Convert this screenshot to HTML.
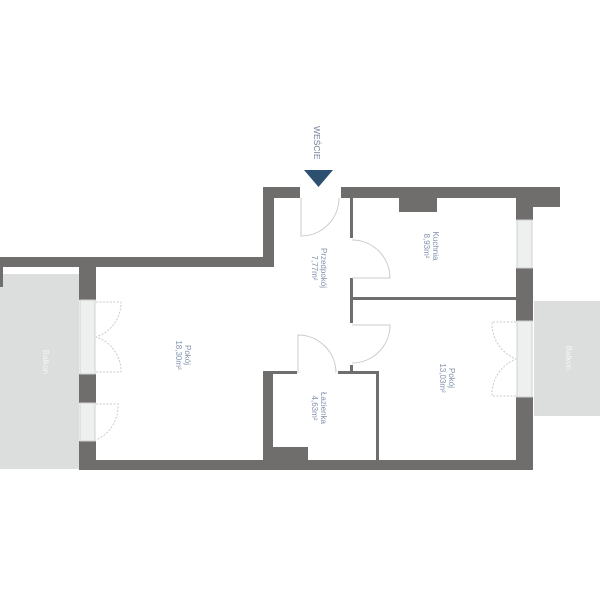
<!DOCTYPE html>
<html><head><style>html,body{margin:0;padding:0;background:#fff}svg{display:block}text{font-family:"Liberation Sans",sans-serif;font-size:8px;fill:#8193ad}</style></head>
<body>
<svg width="600" height="600" viewBox="0 0 600 600" xmlns="http://www.w3.org/2000/svg">
<!-- balconies -->
<rect x="0" y="274" width="79" height="195" fill="#dcdedd"/>
<rect x="534" y="301" width="66" height="115" fill="#dcdedd"/>
<g fill="#6f6e6c">
<!-- top-left entry walls -->
<rect x="263" y="187" width="37" height="11"/>
<rect x="263" y="187" width="11" height="80"/>
<rect x="0" y="257" width="274" height="10"/>
<rect x="0" y="267" width="3" height="20"/>
<!-- top right -->
<rect x="341" y="187" width="219" height="11"/>
<rect x="516" y="187" width="44" height="20"/>
<rect x="516" y="198" width="17" height="22"/>
<rect x="516" y="268" width="17" height="53"/>
<rect x="516" y="397" width="17" height="73"/>
<rect x="399" y="198" width="38" height="14"/>
<!-- left wall -->
<rect x="79" y="267" width="17" height="33"/>
<rect x="79" y="374" width="17" height="29"/>
<rect x="79" y="441" width="17" height="29"/>
<!-- bottom -->
<rect x="79" y="460" width="454" height="10"/>
<!-- interior -->
<rect x="350" y="198" width="3" height="40"/>
<rect x="350" y="278" width="3" height="45"/>
<rect x="350" y="365" width="3" height="9"/>
<rect x="350" y="297" width="166" height="3"/>
<rect x="263" y="371" width="10" height="89"/>
<rect x="273" y="371" width="24" height="3"/>
<rect x="338" y="371" width="41" height="3"/>
<rect x="376" y="371" width="3" height="89"/>
<rect x="263" y="447" width="45" height="13"/>
</g>
<!-- windows -->
<g fill="#eef0ef" stroke="#cfd1d0" stroke-width="1">
<rect x="517" y="220" width="15" height="48"/>
<rect x="80" y="300" width="15" height="74"/>
<rect x="80" y="403" width="15" height="38"/>
<rect x="517" y="321" width="15" height="76"/>
</g>
<!-- doors -->
<g fill="none" stroke="#c9cbca" stroke-width="1">
<path d="M301 198 V236 A38 38 0 0 0 339 198"/>
<path d="M352 278 H390 A38 38 0 0 0 352 240"/>
<path d="M352 325 H390 A38 38 0 0 1 352 363"/>
<path d="M298 373 V335 A38 38 0 0 1 336 373"/>
<g stroke-dasharray="2 1.5">
<path d="M96 302 H121 A36 36 0 0 1 96 337"/>
<path d="M96 372 H121 A36 36 0 0 0 96 337"/>
<path d="M96 404 H118 A37 37 0 0 1 96 440"/>
<path d="M516 322 H492 A38 38 0 0 0 516 359"/>
<path d="M516 396 H492 A38 38 0 0 1 516 359"/>
</g>
</g>
<!-- entry arrow -->
<polygon points="304,170 333,170 318.5,187" fill="#2e5070"/>
<text transform="translate(314,126) rotate(90)" style="font-size:8.5px;fill:#6f7f95">WEŚCIE</text>
<!-- labels -->
<g text-anchor="middle">
<text transform="translate(321,268) rotate(90)"><tspan x="0" y="0">Przedpokój</tspan><tspan x="0" y="9">7,77m²</tspan></text>
<text transform="translate(433,246) rotate(90)"><tspan x="0" y="0">Kuchnia</tspan><tspan x="0" y="9">8,93m²</tspan></text>
<text transform="translate(185,355) rotate(90)"><tspan x="0" y="0">Pokój</tspan><tspan x="0" y="9">18,30m²</tspan></text>
<text transform="translate(449,378) rotate(90)"><tspan x="0" y="0">Pokój</tspan><tspan x="0" y="9">13,03m²</tspan></text>
<text transform="translate(321,408) rotate(90)"><tspan x="0" y="0">Łazienka</tspan><tspan x="0" y="9">4,63m²</tspan></text>
<text transform="translate(43,362) rotate(90)" style="fill:#f4f5f4">Balkon</text>
<text transform="translate(566,358) rotate(90)" style="fill:#f4f5f4">Balkon</text>
</g>
</svg>
</body></html>
